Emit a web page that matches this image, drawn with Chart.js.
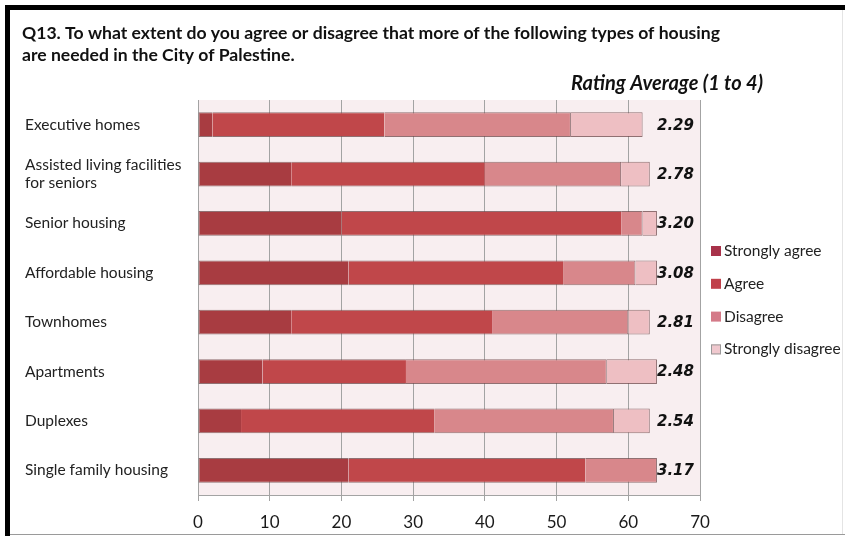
<!DOCTYPE html>
<html>
<head>
<meta charset="utf-8">
<script src="https://cdn.jsdelivr.net/npm/chart.js@4.4.1/dist/chart.umd.min.js"></script>
<style>
  html, body { margin: 0; padding: 0; background: #fff; }
  #wrap { width: 845px; height: 536px; position: relative; }
</style>
</head>
<body>
<div id="wrap"><canvas id="c" width="845" height="536"></canvas></div>
<script>
/* ── DATA ─────────────────────────────────────────────── */
const categories = [
  'Executive homes',
  ['Assisted living facilities', 'for seniors'],
  'Senior housing',
  'Affordable housing',
  'Townhomes',
  'Apartments',
  'Duplexes',
  'Single family housing',
];
const stronglyAgree    = [2, 13, 20, 21, 13, 9, 6, 21];
const agree            = [24, 27, 39, 30, 28, 20, 27, 33];
const disagree         = [26, 19, 3, 10, 19, 28, 25, 10];
const stronglyDisagree = [10, 4, 2, 3, 3, 7, 5, 0];
const ratings = ['2.29', '2.78', '3.20', '3.08', '2.81', '2.48', '2.54', '3.17'];
const xTicks = [0, 10, 20, 30, 40, 50, 60, 70];

const titleLines = [
  'Q13. To what extent do you agree or disagree that more of the following types of housing',
  'are needed in the City of Palestine.',
];
const subTitle = 'Rating Average (1 to 4)';

const FONT = 'Lato, "Open Sans", sans-serif';

/* ── DECORATION PLUGIN ───────────────────────────────── */
const decor = {
  id: 'decor',
  beforeDraw(chart) {
    const { ctx, chartArea: a } = chart;
    ctx.save();
    ctx.fillStyle = '#ffffff';
    ctx.fillRect(0, 0, chart.width, chart.height);
    // frame
    ctx.fillStyle = '#000';
    ctx.fillRect(5, 5, 840, 5);
    ctx.fillRect(5, 5, 5, 531);
    ctx.fillStyle = '#9a9a9a';
    ctx.fillRect(10, 534, 835, 1);
    ctx.fillStyle = '#e4e4e4';
    ctx.fillRect(842, 10, 1, 524);
    // plot background
    ctx.fillStyle = '#f8eef0';
    ctx.fillRect(a.left, a.top, a.right - a.left, a.bottom - a.top);
    ctx.restore();
  },
  afterDraw(chart) {
    const { ctx } = chart;
    const x = chart.scales.x, y = chart.scales.y;
    ctx.save();
    // title
    ctx.fillStyle = '#111';
    ctx.textBaseline = 'middle';
    ctx.textAlign = 'left';
    ctx.font = 'bold 17.6px ' + FONT;
    titleLines.forEach((t, i) => ctx.fillText(t, 22, 33 + i * 22));
    ctx.font = 'italic bold 20px ' + FONT;
    ctx.textAlign = 'right';
    ctx.fillText(subTitle, 763, 84);

    // rating averages
    ctx.font = 'italic bold 15px "DejaVu Sans", sans-serif';
    ctx.textAlign = 'left';
    ratings.forEach((r, i) => {
      ctx.fillText(r, x.getPixelForValue(64.0), y.getPixelForValue(i) + 1);
    });

    // legend
    ctx.font = '15.5px ' + FONT;
    chart.data.datasets.forEach((ds, i) => {
      const ly = 251 + i * 32.8;
      ctx.fillStyle = ds.legendColor;
      ctx.fillRect(711, ly - 5, 10, 10);
      if (i === 3) {
        ctx.strokeStyle = '#999';
        ctx.lineWidth = 1;
        ctx.strokeRect(711.5, ly - 4.5, 9, 9);
      }
      ctx.fillStyle = '#222';
      ctx.fillText(ds.label, 724, ly);
    });
    ctx.restore();
  },
};

/* ── CHART ───────────────────────────────────────────── */
const outline = 'rgba(110,70,72,0.75)';
const common = { borderColor: outline, borderSkipped: false, barPercentage: 0.5, categoryPercentage: 1 };
new Chart(document.getElementById('c'), {
  type: 'bar',
  data: {
    labels: categories,
    datasets: [
      { label: 'Strongly agree', data: stronglyAgree, backgroundColor: '#a83c41', legendColor: '#a8324a',
        borderWidth: { top: 1, bottom: 1, left: 1, right: 0 } },
      { label: 'Agree', data: agree, backgroundColor: '#c0474a', legendColor: '#c0404a',
        borderWidth: { top: 1, bottom: 1, left: 0, right: 0 } },
      { label: 'Disagree', data: disagree, backgroundColor: '#d8878b', legendColor: '#d47a88',
        borderWidth: { top: 1, bottom: 1, left: 0, right: 1 } },
      { label: 'Strongly disagree', data: stronglyDisagree, backgroundColor: '#eebfc3', legendColor: '#f0c8ce',
        borderWidth: { top: 1, bottom: 1, left: 0, right: 1 } },
    ].map(d => Object.assign(d, common)),
  },
  options: {
    indexAxis: 'y',
    responsive: false,
    animation: false,
    devicePixelRatio: 1,
    layout: { padding: { left: 25, top: 100, right: 145, bottom: 0 } },
    plugins: {
      legend: { display: false },
      title: { display: false },
      tooltip: { enabled: false },
    },
    scales: {
      x: {
        stacked: true,
        min: 0,
        max: 70,
        afterFit: s => { s.height = 41; },
        afterBuildTicks: s => { s.ticks = xTicks.map(v => ({ value: v })); },
        grid: { color: '#a3a3a3', lineWidth: 1, tickLength: 6, drawTicks: true },
        border: { display: true, color: '#a3a3a3' },
        ticks: { color: '#1a1a1a', font: { size: 17, family: FONT }, padding: 11 },
      },
      y: {
        stacked: true,
        afterFit: s => { s.width = 173; },
        grid: { display: false },
        border: { display: false },
        ticks: {
          crossAlign: 'far',
          color: '#222',
          font: { size: 15.5, family: FONT, lineHeight: 1.2 },
          padding: 0,
        },
      },
    },
  },
  plugins: [decor],
});
</script>
</body>
</html>
